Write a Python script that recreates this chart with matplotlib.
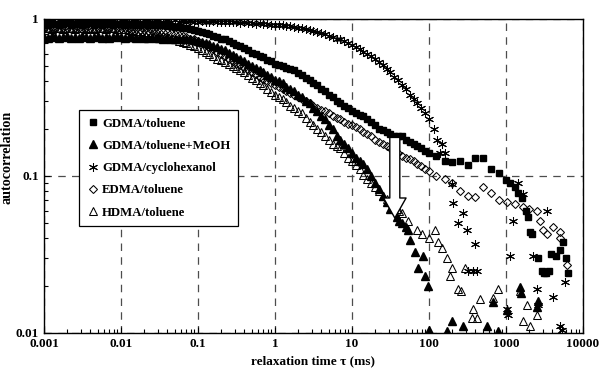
import matplotlib
matplotlib.use("Agg")
import matplotlib.pyplot as plt
from matplotlib.ticker import FixedLocator, FixedFormatter, LogLocator, NullFormatter

plt.rcParams['font.family'] = ['Liberation Serif', 'DejaVu Serif']
plt.rcParams['font.weight'] = 'bold'

# correlator channels (ms): 20 per decade up to 100 ms, then 10 per decade
tau_fine = [0.001, 0.00112, 0.00126, 0.00141, 0.00158, 0.00178, 0.002, 0.00224, 0.00251, 0.00282,
            0.00316, 0.00355, 0.00398, 0.00447, 0.00501, 0.00562, 0.00631, 0.00708, 0.00794, 0.00891,
            0.01, 0.0112, 0.0126, 0.0141, 0.0158, 0.0178, 0.02, 0.0224, 0.0251, 0.0282,
            0.0316, 0.0355, 0.0398, 0.0447, 0.0501, 0.0562, 0.0631, 0.0708, 0.0794, 0.0891,
            0.1, 0.112, 0.126, 0.141, 0.158, 0.178, 0.2, 0.224, 0.251, 0.282,
            0.316, 0.355, 0.398, 0.447, 0.501, 0.562, 0.631, 0.708, 0.794, 0.891,
            1, 1.12, 1.26, 1.41, 1.58, 1.78, 2, 2.24, 2.51, 2.82,
            3.16, 3.55, 3.98, 4.47, 5.01, 5.62, 6.31, 7.08, 7.94, 8.91,
            10, 11.2, 12.6, 14.1, 15.8, 17.8, 20, 22.4, 25.1, 28.2,
            31.6, 35.5, 39.8, 44.7, 50.1, 56.2, 63.1, 70.8, 79.4, 89.1]
tau_coarse = [100, 125, 160, 200, 250, 320, 400, 500, 630, 800]

# GDMA/toluene (filled squares)
g_sq = [0.93, 0.92, 0.94, 0.93, 0.92, 0.93, 0.94, 0.92, 0.93, 0.94, 0.92, 0.93, 0.94, 0.92, 0.93, 0.92, 0.94, 0.93, 0.92, 0.93,
        0.93, 0.92, 0.93, 0.93, 0.92, 0.92, 0.93, 0.92, 0.91, 0.92, 0.91, 0.91, 0.90, 0.90, 0.89, 0.89, 0.88, 0.87, 0.86, 0.85,
        0.84, 0.83, 0.81, 0.80, 0.78, 0.77, 0.75, 0.74, 0.72, 0.70, 0.68, 0.67, 0.65, 0.63, 0.61, 0.60, 0.58, 0.57, 0.55, 0.54,
        0.52, 0.51, 0.50, 0.49, 0.48, 0.47, 0.45, 0.44, 0.42, 0.41, 0.39, 0.38, 0.36, 0.35, 0.33, 0.32, 0.30, 0.29, 0.28, 0.27,
        0.26, 0.25, 0.245, 0.24, 0.23, 0.22, 0.21, 0.20, 0.195, 0.19, 0.185, 0.18, 0.18, 0.18, 0.17, 0.165, 0.16, 0.155, 0.15, 0.145]
g_sq_mid = [0.14, 0.135, 0.125, 0.122, 0.125, 0.118, 0.13, 0.13, 0.11, 0.105]
tau_sq_tail = [1000, 1130, 1300, 1450, 1600, 1800, 1950, 2050, 2150, 2600,
               2900, 3100, 3300, 3600, 3900, 4400, 5000, 5500, 6000, 6300]
g_sq_tail = [0.094, 0.09, 0.085, 0.078, 0.072, 0.06, 0.055, 0.044, 0.043, 0.030,
             0.025, 0.024, 0.024, 0.025, 0.032, 0.031, 0.034, 0.038, 0.030, 0.024]

# GDMA/toluene+MeOH (filled triangles)
g_tr = [0.77, 0.76, 0.78, 0.77, 0.76, 0.77, 0.78, 0.76, 0.77, 0.76, 0.78, 0.77, 0.76, 0.77, 0.78, 0.76, 0.77, 0.76, 0.77, 0.78,
        0.77, 0.76, 0.77, 0.77, 0.76, 0.77, 0.76, 0.76, 0.77, 0.76, 0.76, 0.75, 0.76, 0.75, 0.75, 0.74, 0.75, 0.74, 0.74, 0.73,
        0.72, 0.71, 0.70, 0.69, 0.67, 0.66, 0.64, 0.63, 0.61, 0.59, 0.57, 0.56, 0.54, 0.52, 0.50, 0.49, 0.47, 0.46, 0.44, 0.43,
        0.41, 0.40, 0.39, 0.37, 0.36, 0.35, 0.33, 0.32, 0.30, 0.29, 0.27, 0.26, 0.24, 0.23, 0.21, 0.20, 0.18, 0.17, 0.16, 0.15,
        0.14, 0.13, 0.125, 0.12, 0.11, 0.10, 0.09, 0.083, 0.075, 0.068, 0.062]
tau_tr_tail = [38, 41, 45, 50, 53, 56, 65, 71, 83, 88, 97, 101, 170, 197, 277,
               565, 670, 780, 1030, 1500, 1550, 2530, 2600]
g_tr_tail = [0.055, 0.052, 0.05, 0.047, 0.045, 0.039, 0.033, 0.026, 0.031, 0.023, 0.020,
             0.0105, 0.0103, 0.012, 0.011, 0.011, 0.0157, 0.0103, 0.014, 0.0195, 0.018,
             0.0147, 0.016]

# GDMA/cyclohexanol (asterisks)
g_cy = [0.98, 0.97, 0.99, 0.96, 0.98, 0.97, 0.99, 0.97, 0.96, 0.98, 0.97, 0.99, 0.96, 0.98, 0.97, 0.98, 0.96, 0.98, 0.97, 0.96,
        0.98, 0.97, 0.96, 0.98, 0.97, 0.96, 0.98, 0.97, 0.96, 0.97, 0.98, 0.96, 0.97, 0.96, 0.98, 0.96, 0.97, 0.96, 0.97, 0.96,
        0.96, 0.97, 0.96, 0.95, 0.97, 0.95, 0.96, 0.95, 0.95, 0.96, 0.95, 0.94, 0.95, 0.94, 0.94, 0.93, 0.94, 0.93, 0.93, 0.92,
        0.92, 0.92, 0.91, 0.90, 0.90, 0.89, 0.88, 0.87, 0.86, 0.85, 0.84, 0.83, 0.81, 0.80, 0.78, 0.77, 0.75, 0.74, 0.72, 0.70,
        0.68, 0.66, 0.64, 0.62, 0.60, 0.58, 0.56, 0.53, 0.51, 0.48, 0.46, 0.43, 0.41, 0.38, 0.36, 0.33, 0.31, 0.29, 0.27, 0.25]
tau_cy_tail = [100, 115, 127, 139, 147, 161, 199, 205, 277, 238, 312, 396, 321, 372, 420,
               1030, 1062, 1127, 1233, 1432, 1663, 2244, 2529, 2606, 3406, 4076,
               5020, 5330, 5830]
g_cy_tail = [0.23, 0.2, 0.17, 0.14, 0.16, 0.14, 0.089, 0.067, 0.058, 0.05, 0.045, 0.037,
             0.025, 0.025, 0.025, 0.0143, 0.013, 0.031, 0.052, 0.09, 0.077, 0.031,
             0.019, 0.015, 0.06, 0.017, 0.011, 0.0104, 0.021]

# EDMA/toluene (open diamonds)
g_di = [0.87, 0.86, 0.88, 0.87, 0.86, 0.87, 0.88, 0.86, 0.87, 0.88, 0.86, 0.87, 0.88, 0.86, 0.87, 0.86, 0.88, 0.87, 0.86, 0.87,
        0.86, 0.87, 0.86, 0.85, 0.86, 0.85, 0.85, 0.84, 0.84, 0.83, 0.83, 0.82, 0.82, 0.81, 0.80, 0.79, 0.78, 0.77, 0.75, 0.74,
        0.72, 0.70, 0.68, 0.66, 0.64, 0.62, 0.60, 0.58, 0.56, 0.54, 0.52, 0.51, 0.49, 0.475, 0.46, 0.445, 0.43, 0.415, 0.40, 0.39,
        0.38, 0.37, 0.36, 0.35, 0.34, 0.33, 0.32, 0.31, 0.30, 0.29, 0.28, 0.27, 0.265, 0.26, 0.25, 0.24, 0.235, 0.23, 0.22, 0.215,
        0.21, 0.205, 0.20, 0.19, 0.185, 0.18, 0.17, 0.165, 0.16, 0.155, 0.15, 0.145, 0.14, 0.135, 0.13, 0.128, 0.125, 0.12, 0.115, 0.11]
g_di_mid = [0.108, 0.10, 0.095, 0.09, 0.08, 0.075, 0.073, 0.085, 0.078, 0.07]
tau_di_tail = [1030, 1300, 1660, 2000, 2530, 2780, 3000, 3400, 4080, 5000, 5020, 6230]
g_di_tail = [0.068, 0.066, 0.063, 0.062, 0.06, 0.052, 0.045, 0.043, 0.047, 0.044,
             0.04, 0.027]

# HDMA/toluene (open triangles)
g_ot = [0.88, 0.87, 0.86, 0.88, 0.87, 0.86, 0.87, 0.88, 0.86, 0.87, 0.88, 0.86, 0.87, 0.86, 0.88, 0.87, 0.86, 0.87, 0.88, 0.86,
        0.86, 0.86, 0.85, 0.85, 0.84, 0.84, 0.83, 0.82, 0.81, 0.80, 0.79, 0.78, 0.77, 0.75, 0.74, 0.72, 0.71, 0.70, 0.68, 0.67,
        0.65, 0.63, 0.62, 0.60, 0.58, 0.56, 0.55, 0.53, 0.52, 0.50, 0.49, 0.47, 0.46, 0.44, 0.42, 0.41, 0.39, 0.38, 0.36, 0.345,
        0.33, 0.32, 0.31, 0.295, 0.28, 0.27, 0.26, 0.25, 0.235, 0.22, 0.21, 0.20, 0.19, 0.18, 0.17, 0.16, 0.155, 0.15, 0.14, 0.13,
        0.125, 0.117, 0.11, 0.102, 0.095, 0.09, 0.085, 0.08, 0.075, 0.071, 0.068]
tau_ot_tail = [38, 41, 45, 53, 70, 81, 101, 120, 131, 147, 170, 197, 185, 290, 238,
               263, 460, 372, 362, 420, 670, 780, 1500, 1890, 1660, 2030, 2530]
g_ot_tail = [0.062, 0.06, 0.058, 0.052, 0.045, 0.043, 0.040, 0.045, 0.038, 0.035,
             0.030, 0.026, 0.023, 0.026, 0.019, 0.0186, 0.0165, 0.0143, 0.0125,
             0.0125, 0.0167, 0.019, 0.0186, 0.015, 0.012, 0.011, 0.013]

labels = ['GDMA/toluene', 'GDMA/toluene+MeOH', 'GDMA/cyclohexanol',
          'EDMA/toluene', 'HDMA/toluene']
x_ticks = [0.001, 0.01, 0.1, 1, 10, 100, 1000, 10000]
x_ticklabels = ['0.001', '0.01', '0.1', '1', '10', '100', '1000', '10000']
y_ticks = [0.01, 0.1, 1]
y_ticklabels = ['0.01', '0.1', '1']

fig = plt.figure(figsize=(6.04, 3.69), dpi=100)
ax = fig.add_axes([0.0728, 0.0976, 0.8924, 0.851])

ax.plot(tau_fine + tau_coarse + tau_sq_tail, g_sq + g_sq_mid + g_sq_tail, ls='none',
        marker='s', ms=4.7, mfc='black', mec='black', label=labels[0])
ax.plot(tau_fine[:len(g_tr)] + tau_tr_tail, g_tr + g_tr_tail, ls='none', marker='^',
        ms=5.3, mfc='black', mec='black', label=labels[1])
ax.plot(tau_fine + tau_cy_tail, g_cy + g_cy_tail, ls='none', marker=(6, 2, 0),
        ms=6.4, mec='black', mew=0.75, label=labels[2])
ax.plot(tau_fine + tau_coarse + tau_di_tail, g_di + g_di_mid + g_di_tail, ls='none',
        marker='D', ms=4.1, mfc='none', mec='black', mew=0.75, label=labels[3])
ax.plot(tau_fine[:len(g_ot)] + tau_ot_tail, g_ot + g_ot_tail, ls='none', marker='^',
        ms=5.5, mfc='none', mec='black', mew=0.75, label=labels[4])

# open arrow
ax.annotate('', xy=(36, 0.054), xytext=(36, 0.176),
            arrowprops=dict(arrowstyle='simple,head_length=0.8,head_width=0.9,tail_width=0.4',
                            fc='white', ec='black', lw=1.0, mutation_scale=18,
                            shrinkA=0, shrinkB=0), zorder=5)

ax.set_xscale('log')
ax.set_yscale('log')
ax.set_xlim(0.001, 10000)
ax.set_ylim(0.01, 1)

ax.xaxis.set_major_locator(FixedLocator(x_ticks))
ax.xaxis.set_major_formatter(FixedFormatter(x_ticklabels))
ax.yaxis.set_major_locator(FixedLocator(y_ticks))
ax.yaxis.set_major_formatter(FixedFormatter(y_ticklabels))
ax.xaxis.set_minor_locator(LogLocator(base=10, subs=range(2, 10), numticks=20))
ax.yaxis.set_minor_locator(LogLocator(base=10, subs=range(2, 10), numticks=20))
ax.xaxis.set_minor_formatter(NullFormatter())
ax.yaxis.set_minor_formatter(NullFormatter())
ax.tick_params(which='both', direction='in', top=False, right=False, labelsize=9.5)
ax.tick_params(which='major', length=4, width=0.8)
ax.tick_params(which='minor', length=3, width=0.8)

ax.grid(which='major', linestyle=(0, (6, 5)), color='0.3', lw=0.9)
ax.set_axisbelow(True)
for s in ax.spines.values():
    s.set_linewidth(1.0)

ax.set_xlabel('relaxation time \u03c4 (ms)', fontsize=9.5, fontweight='bold', labelpad=4)
ax.set_ylabel('autocorrelation', fontsize=10.2, fontweight='bold')
ax.yaxis.set_label_coords(-0.056, 0.56)

leg = ax.legend(loc='upper left', bbox_to_anchor=(0.065, 0.71), borderaxespad=0,
                fontsize=9.2, frameon=True, fancybox=False, framealpha=1, edgecolor='black',
                handletextpad=0.2, handlelength=1.0, labelspacing=0.8,
                borderpad=0.6, markerscale=1.0)
leg.get_frame().set_linewidth(0.9)

fig.savefig('out.png', dpi=100)
